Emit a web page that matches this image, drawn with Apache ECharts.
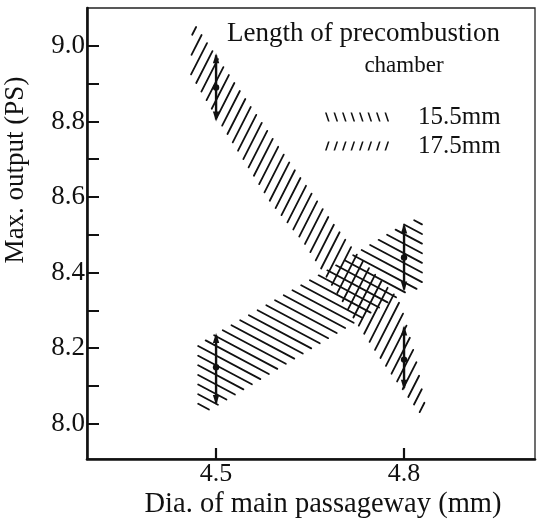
<!DOCTYPE html>
<html>
<head>
<meta charset="utf-8">
<script src="https://cdn.jsdelivr.net/npm/echarts@6/dist/echarts.min.js"></script>
<style>
  html, body { margin: 0; padding: 0; background: #fff; }
  #chart { width: 541px; height: 521px; }
</style>
</head>
<body>
<div id="chart"></div>
<script>
// Axis extents and tick positions
const xMin = 4.294, xMax = 5.009;
const yMin = 7.907, yMax = 9.1;
const xTickValues = [4.5, 4.8];
const yTickValues = [8.0, 8.1, 8.2, 8.3, 8.4, 8.5, 8.6, 8.7, 8.8, 8.9, 9.0];
const yLabelValues = [8.0, 8.2, 8.4, 8.6, 8.8, 9.0];

// 17.5 mm chamber: output band (falls as the passageway widens)
const longUpperX = [4.462, 4.5, 4.602, 4.69, 4.73, 4.79, 4.8, 4.82, 4.838];
const longUpperY = [9.069, 8.976, 8.73, 8.526, 8.44, 8.335, 8.29, 8.17, 8.018];
const longLowerX = [4.459, 4.5, 4.586, 4.639, 4.698, 4.738, 4.766, 4.805, 4.83];
const longLowerY = [8.923, 8.81, 8.585, 8.479, 8.33, 8.23, 8.161, 8.071, 8.016];

// 15.5 mm chamber: output band (rises as the passageway widens)
const shortUpperX = [4.47, 4.5, 4.6, 4.7, 4.8, 4.83];
const shortUpperY = [8.21, 8.24, 8.335, 8.43, 8.53, 8.55];
const shortLowerX = [4.47, 4.5, 4.6, 4.7, 4.8, 4.83];
const shortLowerY = [8.02, 8.045, 8.145, 8.245, 8.345, 8.36];

// Measured scatter at the two tested diameters
const rangeX = [4.5, 4.8];
const longRangeLow  = [8.80, 8.09];
const longRangeMid  = [8.89, 8.17];
const longRangeHigh = [8.98, 8.26];
const shortRangeLow  = [8.05, 8.35];
const shortRangeMid  = [8.15, 8.44];
const shortRangeHigh = [8.24, 8.53];

const INK = '#111';
const FONT = 'Liberation Serif';

// Build an SVG path of parallel hatch strokes clipped to a polygon (pixel space)
function hatchPath(poly, angleDeg, spacing) {
  const a = angleDeg * Math.PI / 180;
  const d = [Math.cos(a), -Math.sin(a)];
  const n = [Math.sin(a), Math.cos(a)];
  const proj = p => p[0] * n[0] + p[1] * n[1];
  let sMin = Infinity, sMax = -Infinity;
  poly.forEach(p => { const s = proj(p); sMin = Math.min(sMin, s); sMax = Math.max(sMax, s); });
  let path = '';
  for (let s = Math.ceil(sMin / spacing) * spacing + 0.01; s < sMax; s += spacing) {
    const ts = [];
    for (let i = 0; i < poly.length; i++) {
      const p1 = poly[i], p2 = poly[(i + 1) % poly.length];
      const s1 = proj(p1) - s, s2 = proj(p2) - s;
      if ((s1 < 0) !== (s2 < 0)) {
        const f = s1 / (s1 - s2);
        const x = p1[0] + f * (p2[0] - p1[0]);
        const y = p1[1] + f * (p2[1] - p1[1]);
        ts.push(x * d[0] + y * d[1]);
      }
    }
    ts.sort((u, v) => u - v);
    for (let j = 0; j + 1 < ts.length; j += 2) {
      const t0 = ts[j] + 1, t1 = ts[j + 1] - 1;
      if (t1 - t0 < 2) continue;
      const x0 = s * n[0] + t0 * d[0], y0 = s * n[1] + t0 * d[1];
      const x1 = s * n[0] + t1 * d[0], y1 = s * n[1] + t1 * d[1];
      path += 'M' + x0.toFixed(2) + ' ' + y0.toFixed(2) + 'L' + x1.toFixed(2) + ' ' + y1.toFixed(2);
    }
  }
  return path;
}

function bandSeries(name, ux, uy, lx, ly, angle, spacing) {
  return {
    type: 'custom',
    name: name,
    coordinateSystem: 'cartesian2d',
    itemStyle: { color: INK },
    data: ux.map((x, i) => [x, uy[i]]).concat(lx.map((x, i) => [x, ly[i]])),
    encode: { x: 0, y: 1 },
    silent: true,
    renderItem: function (params, api) {
      if (params.dataIndex !== 0) return null;
      const upper = ux.map((x, i) => api.coord([x, uy[i]]));
      const lower = lx.map((x, i) => api.coord([x, ly[i]])).reverse();
      const poly = upper.concat(lower);
      return {
        type: 'path',
        shape: { pathData: hatchPath(poly, angle, spacing) },
        style: { stroke: INK, fill: null, lineWidth: 1.8, lineCap: 'round' }
      };
    }
  };
}

function rangeSeries(name, xs, lo, mid, hi) {
  return {
    type: 'custom',
    name: name,
    coordinateSystem: 'cartesian2d',
    itemStyle: { color: INK },
    data: xs.map((x, i) => [x, lo[i], mid[i], hi[i]]),
    encode: { x: 0, y: [1, 2, 3] },
    silent: true,
    z: 5,
    renderItem: function (params, api) {
      const x = api.value(0);
      const pl = api.coord([x, api.value(1)]);
      const pm = api.coord([x, api.value(2)]);
      const ph = api.coord([x, api.value(3)]);
      return {
        type: 'group',
        children: [
          { type: 'line', shape: { x1: ph[0], y1: ph[1] + 2, x2: pl[0], y2: pl[1] - 2 },
            style: { stroke: INK, lineWidth: 2.4 } },
          { type: 'polygon', shape: { points: [[ph[0], ph[1]], [ph[0] - 3.2, ph[1] + 10], [ph[0] + 3.2, ph[1] + 10]] },
            style: { fill: INK } },
          { type: 'polygon', shape: { points: [[pl[0], pl[1]], [pl[0] - 3.2, pl[1] - 10], [pl[0] + 3.2, pl[1] - 10]] },
            style: { fill: INK } },
          { type: 'circle', shape: { cx: pm[0], cy: pm[1], r: 3.2 }, style: { fill: INK } }
        ]
      };
    }
  };
}

// Legend glyphs: short slanted strokes
function strokeIcon(back) {
  let p = '';
  for (let i = 0; i < 8; i++) {
    const x = i * 8.5;
    p += back
      ? 'M' + x + ' 0L' + (x + 1.6) + ' 0L' + (x + 4.6) + ' 9L' + (x + 3) + ' 9Z'
      : 'M' + (x + 3) + ' 0L' + (x + 4.6) + ' 0L' + (x + 1.6) + ' 9L' + x + ' 9Z';
  }
  return 'path://' + p;
}

const chart = echarts.init(document.getElementById('chart'), null, { renderer: 'canvas' });

chart.setOption({
  animation: false,
  backgroundColor: '#fff',
  grid: {
    left: 87, right: 6, top: 8, bottom: 62,
    show: true, borderColor: '#222', borderWidth: 1.3, backgroundColor: 'transparent'
  },
  legend: {
    orient: 'vertical',
    left: 320, top: 99,
    itemWidth: 68, itemHeight: 9, itemGap: 3,
    selectedMode: false,
    textStyle: { fontFamily: FONT, fontSize: 25, color: INK, lineHeight: 26, padding: [0, 0, 0, 22] },
    data: [
      { name: '15.5mm', icon: strokeIcon(true) },
      { name: '17.5mm', icon: strokeIcon(false) }
    ]
  },
  xAxis: {
    type: 'value', min: xMin, max: xMax,
    axisLine: { onZero: false, lineStyle: { color: INK, width: 2.6 } },
    axisTick: { inside: true, length: 11, lineStyle: { color: INK, width: 2.2 }, customValues: xTickValues },
    axisLabel: { customValues: xTickValues, formatter: v => v.toFixed(1),
      fontFamily: FONT, fontSize: 26, color: INK, margin: 2 },
    splitLine: { show: false }
  },
  yAxis: {
    type: 'value', min: yMin, max: yMax,
    axisLine: { show: true, onZero: false, lineStyle: { color: INK, width: 2.6 } },
    axisTick: { show: true, inside: true, length: 12, lineStyle: { color: INK, width: 2 }, customValues: yTickValues },
    axisLabel: { customValues: yLabelValues, formatter: v => v.toFixed(1),
      fontFamily: FONT, fontSize: 27, color: INK, margin: 2 },
    splitLine: { show: false }
  },
  graphic: [
    { type: 'text', x: 227, y: 34,
      style: { text: 'Length of precombustion', fill: INK, font: '27px "Liberation Serif"', align: 'left', verticalAlign: 'middle' } },
    { type: 'text', x: 404, y: 66,
      style: { text: 'chamber', fill: INK, font: '23px "Liberation Serif"', align: 'center', verticalAlign: 'middle' } },
    { type: 'text', x: 16, y: 170, rotation: Math.PI / 2,
      style: { text: 'Max. output (PS)', fill: INK, font: '27px "Liberation Serif"', align: 'center', verticalAlign: 'middle' } },
    { type: 'text', x: 323, y: 505,
      style: { text: 'Dia. of main passageway (mm)', fill: INK, font: '28.5px "Liberation Serif"', align: 'center', verticalAlign: 'middle' } }
  ],
  series: [
    bandSeries('15.5mm', shortUpperX, shortUpperY, shortLowerX, shortLowerY, -28, 8.5),
    bandSeries('17.5mm', longUpperX, longUpperY, longLowerX, longLowerY, 63, 8.5),
    rangeSeries('17.5mm range', rangeX, longRangeLow, longRangeMid, longRangeHigh),
    rangeSeries('15.5mm range', rangeX, shortRangeLow, shortRangeMid, shortRangeHigh)
  ]
});
</script>
</body>
</html>
